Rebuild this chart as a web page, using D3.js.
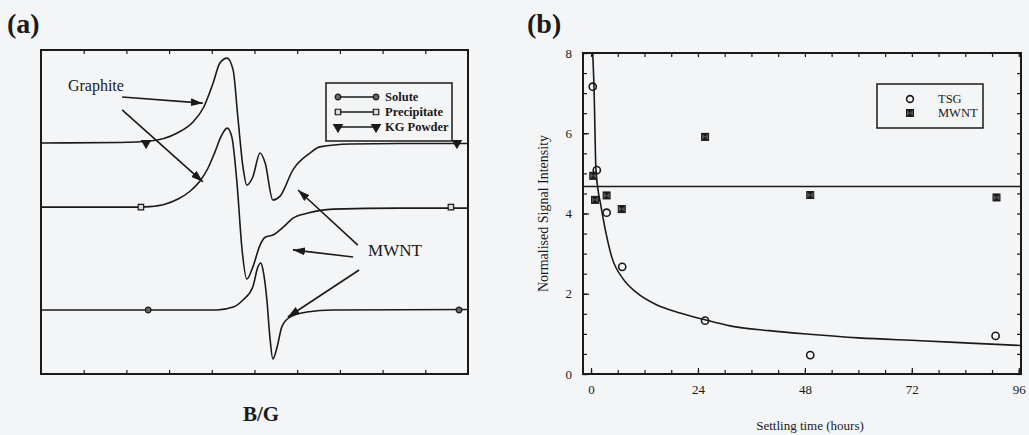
<!DOCTYPE html>
<html>
<head>
<meta charset="utf-8">
<script src="https://cdnjs.cloudflare.com/ajax/libs/d3/7.8.5/d3.min.js"></script>
<style>
body { margin: 0; background: #f4f5f7; }
svg { display: block; }
text { font-family: "Liberation Serif", "Times New Roman", serif; fill: #1a1a1a; }
</style>
</head>
<body>
<svg width="1029" height="435"></svg>
<script>
// ---- panel (a): EPR spectra, field in arbitrary units, intensity relative to baseline
const fieldKG = [0, 18.5, 25.5, 31.9, 35.6, 38.0, 40.3, 41.9, 43.6, 45.0, 46.1, 47.3, 48.2, 49.6, 51.3, 52.5, 54.3, 56.0, 59.0, 63.0, 65.3, 72.4, 84.1, 100]
const kgPowder = [0, 0.15, 0.6, 3.1, 6.5, 10.8, 18.5, 24.7, 26.2, 22.5, 8.0, -7.4, -13.0, -10.5, -3.1, -6.2, -17.6, -16.4, -8.3, -3.1, -1.2, -0.3, -0.15, -0.15]
const fieldPrec = [0, 23.2, 25.5, 29.0, 32.1, 34.9, 37.2, 39.1, 40.7, 42.2, 43.6, 44.7, 45.9, 47.1, 48.2, 49.6, 51.3, 52.5, 54.3, 56.7, 59.0, 62.3, 68.4, 84.1, 100]
const precipitate = [0, 0, 0.15, 0.9, 2.5, 4.9, 8.0, 12.0, 16.9, 21.9, 24.4, 21.6, 7.4, -13.3, -22.2, -18.5, -11.7, -9.3, -8.6, -6.2, -3.4, -1.9, -0.6, -0.3, -0.3]
const fieldSolute = [0, 41.2, 45.0, 47.3, 49.6, 50.8, 51.5, 52.0, 52.9, 53.6, 54.3, 55.3, 56.4, 58.3, 62.3, 68.4, 100]
const solute = [0, 0, 0.9, 3.1, 7.1, 13.3, 14.5, 12.3, 3.1, -8.3, -15.1, -11.4, -5.2, -2.2, -0.6, 0, 0.15]
const spectraNames = ["Solute", "Precipitate", "KG Powder"]
const spectraOffsets = [19.75, 51.5, 71.3]
const markerFields = [[25.1, 97.9], [23.4, 96.0], [24.6, 97.4]]

// ---- panel (b): signal vs settling time
const tsgTime = [0.38, 1.3, 3.5, 7.0, 25.6, 49.2, 90.8]
const tsgSignal = [7.16, 5.08, 4.02, 2.67, 1.33, 0.47, 0.95]
const mwntTime = [0.5, 0.9, 3.5, 6.9, 25.6, 49.2, 91]
const mwntSignal = [4.94, 4.34, 4.45, 4.11, 5.91, 4.46, 4.40]
const fitTime = [0.38, 0.67, 1.1, 1.5, 2.2, 3.2, 4.7, 7.2, 10.3, 14.8, 20, 25.6, 31.2, 40, 49, 60, 74, 85, 96.5]
const fitSignal = [8.0, 7.15, 5.1, 4.65, 4.2, 3.6, 2.9, 2.37, 2.02, 1.72, 1.52, 1.35, 1.2, 1.08, 0.99, 0.9, 0.83, 0.77, 0.71]
const mwntLevel = 4.67
const xTicks = [0, 24, 48, 72, 96]
const yTicks = [0, 2, 4, 6, 8]

const svg = d3.select("svg")
const ink = "#1a1a1a"

svg.append("defs").append("marker")
	.attr("id", "arrow").attr("viewBox", "0 0 12 8").attr("refX", 12).attr("refY", 4)
	.attr("markerWidth", 12).attr("markerHeight", 8).attr("markerUnits", "userSpaceOnUse")
	.attr("orient", "auto")
	.append("path").attr("d", "M0,0L12,4L0,8z").attr("fill", ink)

function frame(g, x0, y0, x1, y1) {
	g.append("path")
		.attr("d", `M${x0},${y0}H${x1}V${y1}H${x0}Z`)
		.style("fill", "none").style("stroke", ink).style("stroke-width", "2px")
}

// ================= panel (a)
const xA = d3.scaleLinear().domain([0, 100]).range([41, 468])
const yA = d3.scaleLinear().domain([0, 100]).range([374, 50])
const gA = svg.append("g").attr("class", "panelA")

svg.append("text").attr("x", 7).attr("y", 33).attr("font-size", 28).attr("font-weight", "bold").text("(a)")

const tickA = d3.range(10, 100, 10)
gA.append("g").attr("transform", "translate(0,50)")
	.call(d3.axisTop(xA).tickValues(tickA).tickSizeInner(-4).tickSizeOuter(0).tickFormat(""))
	.call(g => g.select(".domain").remove())
gA.append("g").attr("transform", "translate(0,374)")
	.call(d3.axisBottom(xA).tickValues(tickA).tickSizeInner(-4).tickSizeOuter(0).tickFormat(""))
	.call(g => g.select(".domain").remove())
gA.selectAll(".tick line").style("stroke", ink).style("stroke-width", "1.2px")

const spectra = [
	{ field: fieldSolute, value: solute },
	{ field: fieldPrec, value: precipitate },
	{ field: fieldKG, value: kgPowder }
]
const symbols = [
	{ type: d3.symbolCircle, size: 26, fill: "#666", rot: 0 },
	{ type: d3.symbolSquare, size: 30, fill: "#ddd", rot: 0 },
	{ type: d3.symbolTriangle, size: 32, fill: ink, rot: 180 }
]

spectra.forEach((s, k) => {
	const line = d3.line()
		.x((d, i) => xA(s.field[i]))
		.y(d => yA(spectraOffsets[k] + d))
		.curve(d3.curveMonotoneX)
	gA.append("path").datum(s.value).attr("d", line)
		.attr("fill", "none").attr("stroke", ink).attr("stroke-width", 1.6)
	markerFields[k].forEach(f => {
		gA.append("path")
			.attr("d", d3.symbol().type(symbols[k].type).size(symbols[k].size))
			.attr("transform", `translate(${xA(f)},${yA(spectraOffsets[k])}) rotate(${symbols[k].rot})`)
			.attr("fill", symbols[k].fill).attr("stroke", ink).attr("stroke-width", 1.2)
	})
})

// annotations (a)
const arrowsA = [
	[19.0, 85.5, 37.9, 83.6],
	[19.0, 81.5, 37.9, 59.3],
	[74.2, 39.8, 60.2, 56.8],
	[73.1, 36.1, 59.0, 38.3],
	[74.5, 32.1, 57.8, 17.6]
]
gA.selectAll(".arr").data(arrowsA).enter().append("line")
	.attr("x1", d => xA(d[0])).attr("y1", d => yA(d[1]))
	.attr("x2", d => xA(d[2])).attr("y2", d => yA(d[3]))
	.attr("stroke", ink).attr("stroke-width", 1.6).attr("marker-end", "url(#arrow)")
gA.append("text").attr("x", xA(6.3)).attr("y", yA(89.2)).attr("dy", "0.35em")
	.attr("font-size", 16).text("Graphite")
gA.append("text").attr("x", xA(76.6)).attr("y", yA(38.3)).attr("dy", "0.35em")
	.attr("font-size", 17).text("MWNT")

// legend (a)
const legA = gA.append("g").attr("transform", "translate(326,83)")
legA.append("rect").attr("width", 126).attr("height", 58).attr("fill", "none").attr("stroke", ink).attr("stroke-width", 1.5)
spectraNames.forEach((n, k) => {
	const y = 14 + k * 15
	legA.append("line").attr("x1", 12).attr("x2", 50).attr("y1", y).attr("y2", y).attr("stroke", ink).attr("stroke-width", 1.5)
	;[12, 50].forEach(x => legA.append("path")
		.attr("d", d3.symbol().type(symbols[k].type).size(symbols[k].size))
		.attr("transform", `translate(${x},${y}) rotate(${symbols[k].rot})`)
		.attr("fill", symbols[k].fill).attr("stroke", ink).attr("stroke-width", 1.2))
	legA.append("text").attr("x", 59).attr("y", y).attr("dy", "0.35em").attr("font-size", 12.5)
		.attr("font-weight", "bold").text(n)
})

frame(gA, xA(0), yA(100), xA(100), yA(0))

svg.append("text").attr("x", 261).attr("y", 421).attr("text-anchor", "middle")
	.attr("font-size", 21).attr("font-weight", "bold").text("B/G")

// ================= panel (b)
const xB = d3.scaleLinear().domain([-1.8, 96.5]).range([583, 1021])
const yB = d3.scaleLinear().domain([0, 8]).range([374, 53])
const gB = svg.append("g").attr("class", "panelB")

svg.append("text").attr("x", 527).attr("y", 33).attr("font-size", 28).attr("font-weight", "bold").text("(b)")

gB.append("defs").append("clipPath").attr("id", "clipB")
	.append("rect").attr("x", 583).attr("y", 53).attr("width", 438).attr("height", 321)

const minorX = d3.range(0, 97, 6)
const minorY = d3.range(0, 8.01, 0.5)
const axisStyle = g => {
	g.select(".domain").remove()
	g.selectAll(".tick line").style("stroke", ink).style("stroke-width", "1.2px")
	g.selectAll(".tick text").attr("font-family", "Liberation Serif, serif").attr("font-size", 13).attr("fill", ink)
}
gB.append("g").attr("transform", "translate(0,374)")
	.call(d3.axisBottom(xB).tickValues(minorX).tickSizeInner(-4).tickSizeOuter(0).tickFormat("")).call(axisStyle)
gB.append("g").attr("transform", "translate(0,374)")
	.call(d3.axisBottom(xB).tickValues(xTicks).tickSizeInner(-6).tickSizeOuter(0).tickPadding(11)).call(axisStyle)
gB.append("g").attr("transform", "translate(0,53)")
	.call(d3.axisTop(xB).tickValues(minorX).tickSizeInner(-4).tickSizeOuter(0).tickFormat("")).call(axisStyle)
gB.append("g").attr("transform", "translate(583,0)")
	.call(d3.axisLeft(yB).tickValues(minorY).tickSizeInner(-4).tickSizeOuter(0).tickFormat("")).call(axisStyle)
gB.append("g").attr("transform", "translate(583,0)")
	.call(d3.axisLeft(yB).tickValues(yTicks).tickSizeInner(-6).tickSizeOuter(0).tickPadding(11)).call(axisStyle)
gB.append("g").attr("transform", "translate(1021,0)")
	.call(d3.axisRight(yB).tickValues(minorY).tickSizeInner(-4).tickSizeOuter(0).tickFormat("")).call(axisStyle)

gB.append("line").attr("x1", 583).attr("x2", 1021).attr("y1", yB(mwntLevel)).attr("y2", yB(mwntLevel))
	.attr("stroke", ink).attr("stroke-width", 1.5)

const fitLine = d3.line().x((d, i) => xB(fitTime[i])).y(d => yB(d)).curve(d3.curveMonotoneX)
gB.append("path").datum(fitSignal).attr("d", fitLine).attr("clip-path", "url(#clipB)")
	.attr("fill", "none").attr("stroke", ink).attr("stroke-width", 1.6)

const mwntSym = "M-3.5,-3.5L3.5,-3.5L-3.5,3.5L3.5,3.5Z"
function drawMwnt(g, x, y) {
	g.append("rect").attr("x", x - 3.5).attr("y", y - 3.5).attr("width", 7).attr("height", 7)
		.attr("fill", "#555").attr("stroke", ink).attr("stroke-width", 1)
	g.append("path").attr("d", mwntSym).attr("transform", `translate(${x},${y})`).attr("fill", ink)
}
mwntSignal.forEach((v, i) => drawMwnt(gB, xB(mwntTime[i]), yB(v)))
gB.selectAll(".tsg").data(tsgSignal).enter().append("circle")
	.attr("cx", (d, i) => xB(tsgTime[i])).attr("cy", d => yB(d)).attr("r", 3.6)
	.attr("fill", "none").attr("stroke", ink).attr("stroke-width", 1.6)

// legend (b)
const legB = gB.append("g").attr("transform", "translate(877,84)")
legB.append("rect").attr("width", 106).attr("height", 44).attr("fill", "none").attr("stroke", ink).attr("stroke-width", 1.5)
legB.append("circle").attr("cx", 33).attr("cy", 15).attr("r", 3.4).attr("fill", "none").attr("stroke", ink).attr("stroke-width", 1.6)
drawMwnt(legB, 33, 29)
legB.append("text").attr("x", 61).attr("y", 15).attr("dy", "0.35em").attr("font-size", 12.5).text("TSG")
legB.append("text").attr("x", 61).attr("y", 29).attr("dy", "0.35em").attr("font-size", 12.5).text("MWNT")

frame(gB, 583, 53, 1021, 374)

gB.append("text").attr("transform", `translate(548,${yB(4)}) rotate(-90)`).attr("text-anchor", "middle")
	.attr("font-size", 14).text("Normalised Signal Intensity")
gB.append("text").attr("x", 810).attr("y", 430).attr("text-anchor", "middle")
	.attr("font-size", 13).text("Settling time (hours)")
</script>
</body>
</html>
